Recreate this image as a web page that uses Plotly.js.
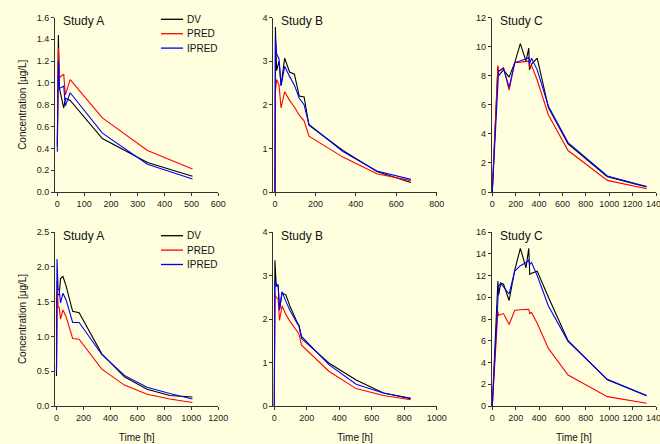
<!DOCTYPE html>
<html>
<head>
<meta charset="utf-8">
<script src="https://cdn.plot.ly/plotly-3.0.1.min.js"></script>
<style>html,body{margin:0;padding:0;background:#FFFFE0;}#chart{width:660px;height:444px;}</style>
</head>
<body>
<div id="chart"></div>
<script>
// ---- Data ----
const seriesNames = ["DV", "PRED", "IPRED"];
const panelTitles = ["Study A", "Study B", "Study C", "Study A", "Study B", "Study C"];

// Row 1
const timeA1 = [0, 4, 8, 24, 30, 48, 168, 336, 504];
const dvA1    = [0.42, 1.44, 0.95, 0.77, 0.86, 0.84, 0.49, 0.27, 0.145];
const predA1  = [0.45, 1.32, 1.05, 1.08, 0.89, 1.03, 0.68, 0.38, 0.21];
const ipredA1 = [0.37, 1.20, 0.95, 0.97, 0.79, 0.91, 0.54, 0.255, 0.12];

const timeB1 = [0, 2, 8, 20, 30, 48, 72, 96, 120, 144, 168, 336, 504, 672];
const dvB1    = [0, 3.78, 2.78, 3.0, 2.45, 3.07, 2.75, 2.7, 2.2, 2.18, 1.53, 0.95, 0.47, 0.22];
const predB1  = [0, 2.3, 2.58, 2.45, 1.93, 2.3, 2.1, 1.95, 1.76, 1.63, 1.28, 0.8, 0.42, 0.26];
const ipredB1 = [0, 3.53, 3.17, 3.05, 2.43, 2.88, 2.65, 2.45, 2.15, 2.0, 1.55, 0.93, 0.48, 0.29];

const timeC1 = [0, 48, 54, 96, 144, 192, 240, 288, 312, 318, 336, 384, 480, 648, 984, 1320];
const dvC1    = [0, 8.6, 8.0, 8.4, 7.9, 8.9, 10.2, 9.0, 9.9, 8.4, 8.8, 9.2, 5.8, 3.3, 1.05, 0.35];
const predC1  = [0, 8.7, 8.3, 8.55, 7.0, 8.9, 8.93, 8.95, 9.0, 8.6, 8.7, 7.7, 5.3, 2.85, 0.8, 0.22];
const ipredC1 = [0, 8.0, 8.3, 8.5, 7.2, 8.9, 9.0, 9.15, 9.25, 8.8, 9.2, 8.4, 5.9, 3.4, 1.1, 0.38];

// Row 2
const timeA2 = [0, 4, 12, 20, 30, 48, 72, 120, 168, 336, 504, 672, 840, 1008];
const dvA2    = [0.43, 1.62, 1.6, 1.6, 1.83, 1.86, 1.72, 1.36, 1.34, 0.75, 0.42, 0.24, 0.15, 0.13];
const predA2  = [0.5, 1.8, 1.42, 1.42, 1.25, 1.38, 1.28, 0.97, 0.96, 0.53, 0.3, 0.17, 0.1, 0.05];
const ipredA2 = [0.5, 2.11, 1.67, 1.67, 1.48, 1.62, 1.52, 1.2, 1.2, 0.74, 0.44, 0.27, 0.18, 0.1];

const timeB2 = [0, 4, 12, 24, 32, 48, 72, 96, 144, 152, 168, 336, 504, 672, 840];
const dvB2    = [0, 3.35, 2.75, 2.79, 2.22, 2.6, 2.55, 2.3, 1.9, 1.85, 1.55, 0.99, 0.6, 0.3, 0.17];
const predB2  = [0, 2.55, 2.5, 2.45, 1.97, 2.3, 2.1, 1.95, 1.7, 1.65, 1.4, 0.8, 0.4, 0.24, 0.145];
const ipredB2 = [0, 2.87, 2.82, 2.75, 2.2, 2.63, 2.4, 2.2, 1.88, 1.85, 1.6, 0.95, 0.5, 0.3, 0.18];

const timeC2 = [0, 48, 54, 72, 96, 144, 192, 240, 288, 312, 320, 336, 384, 480, 648, 984, 1320];
const dvC2    = [0, 11.5, 10.2, 11.3, 11.2, 9.7, 12.5, 14.5, 12.7, 14.5, 12.1, 12.2, 12.4, 10.0, 6.0, 2.4, 0.95];
const predC2  = [0, 8.7, 8.35, 8.4, 8.5, 7.5, 8.8, 8.85, 8.9, 8.9, 8.5, 8.6, 7.6, 5.3, 2.85, 0.86, 0.25];
const ipredC2 = [0, 10.5, 11.0, 11.3, 11.0, 10.3, 12.4, 12.9, 13.2, 13.4, 13.0, 13.2, 12.0, 9.2, 5.95, 2.45, 0.97];

// Axis settings per panel
const xMax  = [600.01, 800.01, 1400.01, 1200.01, 1000.01, 1400.01];
const xMin  = [-8.6, -8.4, -5, -11, -6, -5];
const xStep = [100, 200, 200, 200, 200, 200];
const yMax  = [1.6, 4, 12, 2.5, 4, 16];
const yStep = [0.2, 1, 2, 0.5, 1, 2];
const yFmt  = [".1f", "d", "d", ".1f", "d", "d"];

const panels = [
  [timeA1, dvA1, predA1, ipredA1],
  [timeB1, dvB1, predB1, ipredB1],
  [timeC1, dvC1, predC1, ipredC1],
  [timeA2, dvA2, predA2, ipredA2],
  [timeB2, dvB2, predB2, ipredB2],
  [timeC2, dvC2, predC2, ipredC2]
];
const colors = ["#000000", "#FF0000", "#0000FF"];

// ---- Layout geometry ----
const W = 660, H = 444;
const colPx = [[55, 218.3], [273.3, 436.7], [491.7, 656]];
const rowPx = [[17.5, 192], [232, 406]];
const legendTopPx = [19.3, 235.7];
const legendGapPx = 14.4;
const FONT = "Liberation Sans, Arial, sans-serif";
const BG = "#FFFFE0";

const traces = [];
const layout = {
  width: W, height: H,
  margin: {l: 0, r: 0, t: 0, b: 0},
  paper_bgcolor: BG, plot_bgcolor: BG,
  font: {family: FONT, size: 9, color: "#222"},
  showlegend: false,
  annotations: [],
  shapes: []
};

panels.forEach((p, i) => {
  const k = i + 1;
  const xa = "x" + (k === 1 ? "" : k), ya = "y" + (k === 1 ? "" : k);
  const row = i < 3 ? 0 : 1, col = i % 3;
  for (let s = 0; s < 3; s++) {
    traces.push({
      x: p[0], y: p[s + 1], type: "scatter", mode: "lines",
      name: seriesNames[s], xaxis: xa, yaxis: ya,
      line: {color: colors[s], width: 1.1},
      hoverinfo: "skip", cliponaxis: false
    });
  }
  const axCommon = {
    showline: true, linecolor: "#333", linewidth: 1,
    ticks: "outside", ticklen: 3, tickwidth: 1, tickcolor: "#333",
    showgrid: false, zeroline: false, automargin: false,
    ticklabeloverflow: "allow",
    tickfont: {size: 9, family: FONT, color: "#222"}
  };
  layout["xaxis" + (k === 1 ? "" : k)] = Object.assign({}, axCommon, {
    domain: [colPx[col][0] / W, colPx[col][1] / W],
    anchor: ya, range: [xMin[i], xMax[i]], tick0: 0, dtick: xStep[i],
    title: row === 1 ? {text: "Time [h]", font: {size: 10, family: FONT, color: "#111"}, standoff: 12} : {text: ""}
  });
  layout["yaxis" + (k === 1 ? "" : k)] = Object.assign({}, axCommon, {
    domain: [1 - rowPx[row][1] / H, 1 - rowPx[row][0] / H],
    anchor: xa, range: [0, yMax[i]], tick0: 0, dtick: yStep[i], tickformat: yFmt[i],
    title: col === 0 ? {text: "Concentration [µg/L]", font: {size: 10, family: FONT, color: "#111"}, standoff: 8} : {text: ""}
  });
  layout.annotations.push({
    text: panelTitles[i], xref: xa + " domain", yref: ya + " domain",
    x: 0, y: 1, xanchor: "left", yanchor: "top", xshift: 6, yshift: 5,
    showarrow: false, font: {size: 12, family: FONT, color: "#111"}
  });
});

// Legend keys (one per row, in the left panel)
legendTopPx.forEach((top) => {
  for (let s = 0; s < 3; s++) {
    const yPaper = 1 - (top + s * legendGapPx) / H;
    layout.shapes.push({
      type: "line", xref: "paper", yref: "paper",
      x0: 161 / W, x1: 183 / W, y0: yPaper, y1: yPaper,
      line: {color: colors[s], width: 1.3}
    });
    layout.annotations.push({
      text: seriesNames[s], xref: "paper", yref: "paper",
      x: 185 / W, y: yPaper, xanchor: "left", yanchor: "middle",
      showarrow: false, font: {size: 10, family: FONT, color: "#111"}
    });
  }
});

Plotly.newPlot("chart", traces, layout, {displayModeBar: false, staticPlot: true});
</script>
</body>
</html>
